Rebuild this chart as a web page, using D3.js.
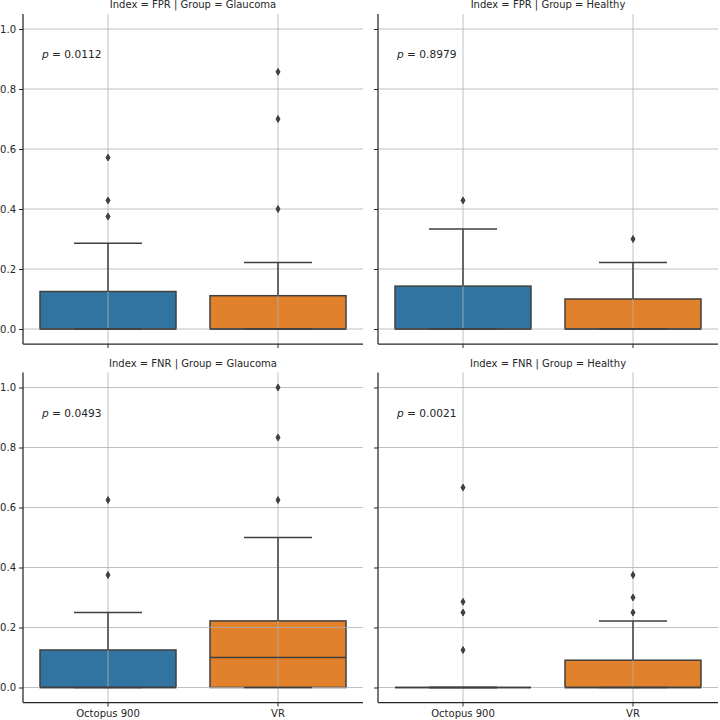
<!DOCTYPE html>
<html>
<head>
<meta charset="utf-8">
<script src="https://cdn.jsdelivr.net/npm/d3@7"></script>
<style>
  html, body { margin: 0; padding: 0; background: #fff; }
  svg { display: block; font-family: "DejaVu Sans", sans-serif; }
</style>
</head>
<body>
<svg id="chart" width="720" height="720"></svg>
<script>
// ---------------- data ----------------
const groups = ["Octopus 900", "VR"];
const indices = ["FPR", "FPR", "FNR", "FNR"];
const cohorts = ["Glaucoma", "Healthy", "Glaucoma", "Healthy"];
const pValues = ["0.0112", "0.8979", "0.0493", "0.0021"];
const yTicks = [0, 0.2, 0.4, 0.6, 0.8, 1.0];
const palette = ["#3274a1", "#e1812c"];
// box stats per group: [lowerWhisker, q1, median, q3, upperWhisker]
const fprGlaucomaBoxes = [[0, 0, 0, 0.125, 0.2857], [0, 0, 0, 0.111, 0.222]];
const fprGlaucomaOutliers = [[0.375, 0.4286, 0.5714], [0.4, 0.7, 0.8571]];
const fprHealthyBoxes = [[0, 0, 0, 0.1429, 0.3333], [0, 0, 0, 0.1, 0.222]];
const fprHealthyOutliers = [[0.4286], [0.3]];
const fnrGlaucomaBoxes = [[0, 0, 0, 0.125, 0.25], [0, 0, 0.1, 0.222, 0.5]];
const fnrGlaucomaOutliers = [[0.375, 0.625], [0.625, 0.8333, 1.0]];
const fnrHealthyBoxes = [[0, 0, 0, 0, 0], [0, 0, 0, 0.0909, 0.222]];
const fnrHealthyOutliers = [[0.125, 0.25, 0.2857, 0.6667], [0.25, 0.3, 0.375]];

const panelBoxes = [fprGlaucomaBoxes, fprHealthyBoxes, fnrGlaucomaBoxes, fnrHealthyBoxes];
const panelOutliers = [fprGlaucomaOutliers, fprHealthyOutliers, fnrGlaucomaOutliers, fnrHealthyOutliers];

// ---------------- layout ----------------
const svg = d3.select("#chart");
svg.append("rect").attr("width", 720).attr("height", 720).attr("fill", "#fff");

const W = 340, H = 330;
const lefts = [23, 378];
const tops = [14, 372.5];
const lineColor = "#3f3f3f";
const textColor = "#262626";
const gridColor = "#b0b0b0";

const x = d3.scaleBand().domain(groups).range([0, W]);
const y = d3.scaleLinear().domain([-0.05, 1.05]).range([H, 0]);
const boxW = x.bandwidth() * 0.8;
const capW = boxW * 0.5;

for (let i = 0; i < 4; i++) {
  const col = i % 2, row = Math.floor(i / 2);
  const g = svg.append("g").attr("transform", `translate(${lefts[col]},${tops[row]})`);
  const boxes = panelBoxes[i];
  const outs = panelOutliers[i];

  // boxes (below grid)
  groups.forEach((grp, j) => {
    const s = boxes[j];
    const cx = x(grp) + x.bandwidth() / 2;
    g.append("rect")
      .attr("x", cx - boxW / 2)
      .attr("y", y(s[3]))
      .attr("width", boxW)
      .attr("height", Math.max(0, y(s[1]) - y(s[3])))
      .attr("fill", palette[j])
      .attr("stroke", lineColor)
      .attr("stroke-width", 1.5);
  });

  // grid
  yTicks.forEach(t => {
    g.append("line").attr("x1", 0).attr("x2", W).attr("y1", y(t)).attr("y2", y(t))
      .attr("stroke", gridColor).attr("stroke-width", 0.8);
  });
  groups.forEach(grp => {
    const cx = x(grp) + x.bandwidth() / 2;
    g.append("line").attr("x1", cx).attr("x2", cx).attr("y1", 0).attr("y2", H)
      .attr("stroke", gridColor).attr("stroke-width", 0.8);
  });

  // whiskers, caps, medians, outliers
  groups.forEach((grp, j) => {
    const s = boxes[j];
    const cx = x(grp) + x.bandwidth() / 2;
    g.append("line").attr("x1", cx).attr("x2", cx).attr("y1", y(s[3])).attr("y2", y(s[4]))
      .attr("stroke", lineColor).attr("stroke-width", 1.5);
    g.append("line").attr("x1", cx).attr("x2", cx).attr("y1", y(s[1])).attr("y2", y(s[0]))
      .attr("stroke", lineColor).attr("stroke-width", 1.5);
    [s[0], s[4]].forEach(v => {
      g.append("line").attr("x1", cx - capW / 2).attr("x2", cx + capW / 2)
        .attr("y1", y(v)).attr("y2", y(v))
        .attr("stroke", lineColor).attr("stroke-width", 1.5);
    });
    g.append("line").attr("x1", cx - boxW / 2).attr("x2", cx + boxW / 2)
      .attr("y1", y(s[2])).attr("y2", y(s[2]))
      .attr("stroke", lineColor).attr("stroke-width", 1.5);
    if (s[1] === s[3]) {
      g.append("line").attr("x1", cx - boxW / 2).attr("x2", cx + boxW / 2)
        .attr("y1", y(s[1])).attr("y2", y(s[1]))
        .attr("stroke", lineColor).attr("stroke-width", 1.5);
    }
    outs[j].forEach(v => {
      const py = y(v);
      g.append("path")
        .attr("d", `M${cx},${py - 3.4}L${cx + 2},${py}L${cx},${py + 3.4}L${cx - 2},${py}Z`)
        .attr("fill", lineColor).attr("stroke", lineColor).attr("stroke-width", 1);
    });
  });

  // axes
  const yAxis = d3.axisLeft(y).tickValues(yTicks).tickSize(4).tickPadding(3)
    .tickFormat(col === 0 ? d3.format(".1f") : () => "");
  const ya = g.append("g").call(yAxis);
  const xAxis = d3.axisBottom(x).tickSize(4).tickPadding(3)
    .tickFormat(row === 1 ? (d => d) : () => "");
  const xa = g.append("g").attr("transform", `translate(0,${H})`).call(xAxis);
  [ya, xa].forEach(a => {
    a.select(".domain").remove();
    a.selectAll("line").attr("stroke", textColor).attr("stroke-width", 1);
    a.selectAll("text").attr("fill", textColor).attr("font-size", 10)
      .attr("font-family", "DejaVu Sans");
  });
  g.append("line").attr("x1", 0).attr("x2", 0).attr("y1", 0).attr("y2", H)
    .attr("stroke", textColor).attr("stroke-width", 1.25);
  g.append("line").attr("x1", 0).attr("x2", W).attr("y1", H).attr("y2", H)
    .attr("stroke", textColor).attr("stroke-width", 1.25);

  // title
  g.append("text").attr("x", W / 2).attr("y", -6).attr("text-anchor", "middle")
    .attr("font-size", 10).attr("fill", textColor)
    .text(`Index = ${indices[i]} | Group = ${cohorts[i]}`);

  // p-value annotation
  const pt = g.append("text").attr("x", 19).attr("y", 44)
    .attr("font-size", 10.6).attr("fill", textColor);
  pt.append("tspan").attr("font-style", "italic").text("p");
  pt.append("tspan").text(` = ${pValues[i]}`);
}
</script>
</body>
</html>
